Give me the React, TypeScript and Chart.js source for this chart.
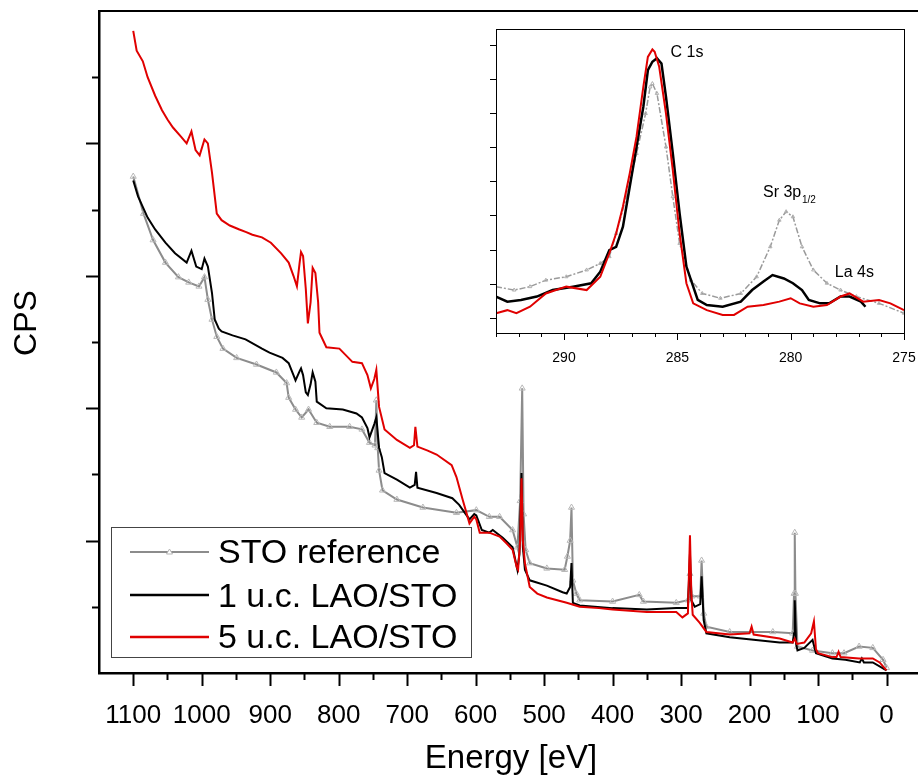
import React, { useEffect, useRef } from 'react';
import { Chart, registerables } from 'chart.js';
Chart.register(...registerables);

const FONT = "'Liberation Sans', Arial, Helvetica, sans-serif";

// ---------- main survey spectrum ----------
const redE = [1100, 1095, 1086, 1079, 1068, 1058, 1050, 1042, 1030, 1022, 1015, 1009, 1003, 996, 991, 985, 978, 971, 959, 945, 935, 926, 912, 899, 884, 873, 866, 861, 857, 855, 852, 848, 845, 841, 838, 834, 830, 828, 818, 799, 780, 766, 758, 753, 748, 745, 741, 733, 715, 696, 690, 688, 685, 670, 657, 635, 628, 619, 609, 602, 599, 594, 580, 565, 555, 546, 540, 538, 535, 533, 531, 528, 521, 510, 496, 467, 448, 420, 400, 350, 307, 298, 290, 287, 285, 283, 273, 263, 229, 200, 197, 194, 156, 137, 134, 131, 120, 110, 106, 103, 100, 79, 73, 70, 67, 40, 20, 10, 0];
const redY = [4.85, 4.70, 4.62, 4.50, 4.36, 4.25, 4.18, 4.12, 4.05, 4.00, 4.09, 3.95, 3.91, 4.03, 4.00, 3.78, 3.47, 3.42, 3.38, 3.35, 3.33, 3.31, 3.29, 3.25, 3.17, 3.10, 3.00, 2.92, 3.10, 3.18, 3.15, 2.90, 2.64, 2.80, 3.06, 3.02, 2.80, 2.57, 2.46, 2.45, 2.35, 2.34, 2.25, 2.15, 2.22, 2.29, 2.01, 1.84, 1.76, 1.70, 1.72, 1.86, 1.71, 1.68, 1.65, 1.57, 1.48, 1.31, 1.13, 1.18, 1.16, 1.06, 1.06, 1.03, 0.98, 0.93, 0.80, 0.78, 1.00, 1.47, 1.00, 0.83, 0.65, 0.60, 0.57, 0.53, 0.50, 0.49, 0.48, 0.46, 0.46, 0.42, 0.45, 1.04, 0.60, 0.44, 0.38, 0.31, 0.29, 0.30, 0.35, 0.29, 0.26, 0.23, 0.26, 0.22, 0.23, 0.30, 0.39, 0.18, 0.15, 0.12, 0.12, 0.16, 0.12, 0.11, 0.11, 0.08, 0.02];

const blackE = [1100, 1093, 1079, 1068, 1053, 1039, 1022, 1015, 1008, 1000, 996, 991, 985, 981, 975, 971, 955, 936, 912, 901, 882, 873, 866, 863, 857, 855, 852, 848, 845, 841, 838, 834, 832, 818, 794, 774, 766, 758, 755, 748, 745, 741, 737, 733, 715, 696, 689, 687, 685, 657, 634, 624, 609, 602, 599, 591, 580, 575, 560, 546, 539, 536, 533, 531, 528, 521, 496, 473, 467, 462, 460, 458, 448, 400, 350, 307, 290, 287, 285, 280, 272, 270, 267, 263, 229, 156, 137, 135, 134, 132, 130, 120, 108, 103, 79, 60, 39, 36, 33, 20, 0];
const blackY = [3.72, 3.60, 3.44, 3.35, 3.25, 3.17, 3.10, 3.19, 3.07, 3.05, 3.13, 3.07, 2.87, 2.67, 2.60, 2.58, 2.55, 2.52, 2.45, 2.42, 2.38, 2.34, 2.25, 2.21, 2.28, 2.30, 2.25, 2.12, 2.10, 2.18, 2.27, 2.20, 2.05, 2.00, 1.99, 1.96, 1.93, 1.85, 1.78, 1.88, 1.93, 1.70, 1.63, 1.51, 1.46, 1.40, 1.42, 1.52, 1.40, 1.36, 1.32, 1.27, 1.16, 1.20, 1.19, 1.08, 1.06, 1.08, 1.02, 0.95, 0.78, 0.90, 1.51, 0.95, 0.78, 0.70, 0.66, 0.61, 0.60, 0.65, 0.83, 0.53, 0.51, 0.49, 0.48, 0.49, 0.49, 0.90, 0.55, 0.50, 0.52, 0.73, 0.40, 0.30, 0.27, 0.23, 0.23, 0.30, 0.55, 0.22, 0.17, 0.19, 0.25, 0.15, 0.11, 0.10, 0.08, 0.11, 0.08, 0.08, 0.02];

const grayE = [1100, 1085, 1071, 1053, 1034, 1019, 1004, 996, 991, 985, 978, 969, 949, 920, 891, 876, 873, 863, 854, 844, 832, 813, 784, 766, 755, 747, 745, 743, 741, 736, 715, 677, 628, 599, 580, 565, 546, 539, 535, 532, 530, 527, 521, 496, 470, 466, 462, 460, 458, 453, 448, 400, 361, 355, 307, 290, 287, 284, 272, 270, 267, 263, 229, 166, 137, 135, 134, 133, 130, 108, 79, 62, 40, 20, 5, 0];
const grayY = [3.75, 3.47, 3.27, 3.10, 2.99, 2.95, 2.92, 2.99, 2.82, 2.67, 2.54, 2.45, 2.38, 2.33, 2.27, 2.19, 2.08, 1.99, 1.93, 1.99, 1.89, 1.86, 1.86, 1.84, 1.74, 1.72, 2.06, 1.70, 1.53, 1.38, 1.31, 1.25, 1.21, 1.23, 1.18, 1.18, 1.08, 0.95, 1.30, 2.15, 1.20, 0.93, 0.83, 0.79, 0.78, 0.88, 1.00, 1.25, 0.70, 0.60, 0.55, 0.54, 0.59, 0.54, 0.53, 0.55, 0.75, 0.58, 0.58, 0.85, 0.45, 0.35, 0.31, 0.31, 0.30, 0.60, 1.06, 0.60, 0.20, 0.17, 0.15, 0.15, 0.20, 0.19, 0.10, 0.04];

const xMajorTicks = [1100, 1000, 900, 800, 700, 600, 500, 400, 300, 200, 100, 0];
const xMinorTicks = [1050, 950, 850, 750, 650, 550, 450, 350, 250, 150, 50];
const yMajorTicks = [1, 2, 3, 4];
const yMinorTicks = [0.5, 1.5, 2.5, 3.5, 4.5];
const legendLabels = ['STO reference', '1 u.c. LAO/STO', '5 u.c. LAO/STO'];

// ---------- inset: C 1s region ----------
const insRedE = [293, 292.5, 292.1, 291.5, 290.8, 289.9, 289.0, 288.4, 288.0, 287.7, 287.4, 287.1, 286.8, 286.5, 286.3, 286.1, 286.0, 285.8, 285.5, 285.2, 284.9, 284.6, 284.3, 283.7, 283.0, 282.5, 281.9, 281.2, 280.5, 280.0, 279.6, 279.0, 278.4, 277.8, 277.4, 276.8, 276.1, 275.6, 275.0];
const insRedY = [0.13, 0.22, 0.13, 0.32, 0.71, 0.91, 0.81, 1.20, 1.89, 2.47, 3.26, 4.23, 5.31, 6.77, 7.65, 7.87, 7.80, 7.36, 5.99, 4.33, 2.47, 1.01, 0.42, 0.22, 0.08, 0.08, 0.32, 0.37, 0.47, 0.57, 0.42, 0.32, 0.37, 0.62, 0.71, 0.47, 0.52, 0.42, 0.22];
const insBlackE = [293, 292.5, 291.9, 291.2, 290.5, 289.6, 288.8, 288.4, 288.0, 287.7, 287.4, 287.1, 286.8, 286.5, 286.3, 286.1, 285.9, 285.7, 285.5, 285.2, 284.9, 284.6, 284.1, 283.7, 283.0, 282.2, 281.7, 281.2, 280.8, 280.3, 279.9, 279.5, 279.2, 278.7, 278.3, 277.8, 277.4, 276.9, 276.7];
const insBlackY = [0.62, 0.47, 0.52, 0.62, 0.81, 0.91, 1.01, 1.35, 1.98, 2.08, 2.67, 3.84, 5.01, 6.19, 7.26, 7.51, 7.61, 7.46, 6.48, 4.82, 3.06, 1.50, 0.52, 0.37, 0.32, 0.47, 0.81, 1.06, 1.25, 1.15, 1.01, 0.81, 0.52, 0.42, 0.42, 0.62, 0.62, 0.47, 0.32];
const insGrayE = [293, 292.2, 291.5, 290.8, 289.9, 289.0, 288.4, 288.0, 287.7, 287.2, 286.8, 286.4, 286.2, 286.1, 285.9, 285.5, 285.2, 284.9, 284.4, 283.9, 283.1, 282.2, 281.5, 280.9, 280.5, 280.2, 279.9, 279.5, 279.0, 278.4, 277.8, 277.1, 276.1, 275.0];
const insGrayY = [0.91, 0.81, 0.91, 1.10, 1.20, 1.40, 1.59, 1.79, 2.47, 3.65, 4.82, 5.99, 6.77, 6.87, 6.58, 5.01, 3.55, 2.18, 1.10, 0.71, 0.57, 0.71, 1.20, 2.08, 2.86, 3.11, 2.96, 2.08, 1.40, 1.01, 0.81, 0.62, 0.42, 0.13];
const insXMajorTicks = [290, 285, 280, 275];
const insXMinorTicks = [293, 292, 291, 289, 288, 287, 286, 284, 283, 282, 281, 279, 278, 277, 276];
const insYTicks = [0, 1, 2, 3, 4, 5, 6, 7, 8];

const pts = (xs: number[], ys: number[]) => xs.map((x, i) => ({ x, y: ys[i] }));

const mainPlugin = {
  id: 'mainDeco',
  afterDraw(chart: any) {
    const { ctx, chartArea: ca, scales } = chart;
    const xs = scales.x, ys = scales.y;
    ctx.save();
    ctx.strokeStyle = '#000';
    ctx.lineWidth = 2;
    ctx.beginPath();
    ctx.moveTo(ca.left, ca.top);
    ctx.lineTo(ca.right, ca.top);
    ctx.stroke();
    const drawX = (vals: number[], len: number) => {
      vals.forEach((v) => {
        const p = Math.round(xs.getPixelForValue(v)) + 0.5;
        ctx.beginPath();
        ctx.moveTo(p, ca.bottom);
        ctx.lineTo(p, ca.bottom + len);
        ctx.stroke();
      });
    };
    drawX(xMajorTicks, 13);
    drawX(xMinorTicks, 7);
    const drawY = (vals: number[], len: number) => {
      vals.forEach((v) => {
        const p = Math.round(ys.getPixelForValue(v)) + 0.5;
        ctx.beginPath();
        ctx.moveTo(ca.left, p);
        ctx.lineTo(ca.left - len, p);
        ctx.stroke();
      });
    };
    drawY(yMajorTicks, 13);
    drawY(yMinorTicks, 7);
    ctx.fillStyle = '#000';
    ctx.font = `32px ${FONT}`;
    ctx.textAlign = 'center';
    ctx.textBaseline = 'middle';
    ctx.save();
    ctx.translate(27, 323);
    ctx.rotate(-Math.PI / 2);
    ctx.fillText('CPS', 0, 0);
    ctx.restore();
    ctx.font = `33px ${FONT}`;
    ctx.textBaseline = 'alphabetic';
    ctx.fillText('Energy [eV]', 511, 768);
    const bx = 111.5, by = 527.5, bw = 360, bh = 130;
    ctx.fillStyle = '#fff';
    ctx.fillRect(bx, by, bw, bh);
    ctx.strokeStyle = '#444';
    ctx.lineWidth = 1;
    ctx.strokeRect(bx, by, bw, bh);
    const rows = [
      { y: 552, color: '#8c8c8c', width: 2, base: 563 },
      { y: 595, color: '#000', width: 2.5, base: 606.5 },
      { y: 637, color: '#e00000', width: 2.5, base: 648 },
    ];
    rows.forEach((r, i) => {
      ctx.strokeStyle = r.color;
      ctx.lineWidth = r.width;
      ctx.beginPath();
      ctx.moveTo(130, r.y);
      ctx.lineTo(209, r.y);
      ctx.stroke();
      if (i === 0) {
        ctx.strokeStyle = '#b5b5b5';
        ctx.lineWidth = 1;
        ctx.fillStyle = '#fff';
        ctx.beginPath();
        ctx.moveTo(169.5, r.y - 3);
        ctx.lineTo(166.5, r.y + 2);
        ctx.lineTo(172.5, r.y + 2);
        ctx.closePath();
        ctx.fill();
        ctx.stroke();
      }
      ctx.fillStyle = '#000';
      ctx.font = `34px ${FONT}`;
      ctx.textAlign = 'left';
      ctx.textBaseline = 'alphabetic';
      ctx.fillText(legendLabels[i], 218, r.base);
    });
    ctx.restore();
  },
};

const insetPlugin = {
  id: 'insetDeco',
  beforeDatasetsDraw(chart: any) {
    const { ctx, chartArea: ca } = chart;
    ctx.save();
    ctx.fillStyle = '#fff';
    ctx.fillRect(ca.left, ca.top, ca.right - ca.left, ca.bottom - ca.top);
    ctx.restore();
  },
  afterDraw(chart: any) {
    const { ctx, chartArea: ca, scales } = chart;
    const xs = scales.x, ys = scales.y;
    ctx.save();
    ctx.strokeStyle = '#000';
    ctx.lineWidth = 1;
    ctx.strokeRect(Math.round(ca.left) + 0.5, Math.round(ca.top) + 0.5, Math.round(ca.right - ca.left), Math.round(ca.bottom - ca.top));
    const drawX = (vals: number[], len: number) => {
      vals.forEach((v) => {
        const p = Math.round(xs.getPixelForValue(v)) + 0.5;
        ctx.beginPath();
        ctx.moveTo(p, ca.bottom);
        ctx.lineTo(p, ca.bottom + len);
        ctx.stroke();
      });
    };
    drawX(insXMajorTicks, 7);
    drawX(insXMinorTicks, 4);
    insYTicks.forEach((v) => {
      const p = Math.round(ys.getPixelForValue(v)) + 0.5;
      ctx.beginPath();
      ctx.moveTo(ca.left, p);
      ctx.lineTo(ca.left - 6, p);
      ctx.stroke();
    });
    ctx.fillStyle = '#000';
    ctx.textAlign = 'left';
    ctx.textBaseline = 'alphabetic';
    ctx.font = `16px ${FONT}`;
    ctx.fillText('C 1s', xs.getPixelForValue(285.3), ys.getPixelForValue(7.65));
    ctx.fillText('Sr 3p', xs.getPixelForValue(281.22), ys.getPixelForValue(3.55));
    ctx.fillText('La 4s', xs.getPixelForValue(278.05), ys.getPixelForValue(1.18));
    ctx.font = `10px ${FONT}`;
    ctx.fillText('1/2', xs.getPixelForValue(279.5), ys.getPixelForValue(3.37));
    ctx.restore();
  },
};

export default function App() {
  const mainRef = useRef<HTMLCanvasElement>(null);
  const insetRef = useRef<HTMLCanvasElement>(null);

  useEffect(() => {
    Chart.defaults.font.family = FONT;
    Chart.defaults.color = '#000';
    const main = new Chart(mainRef.current as HTMLCanvasElement, {
      type: 'line',
      data: {
        datasets: [
          { label: legendLabels[2], data: pts(redE, redY), borderColor: '#e00000', borderWidth: 2, pointRadius: 0, order: 0 },
          { label: legendLabels[1], data: pts(blackE, blackY), borderColor: '#000', borderWidth: 2, pointRadius: 0, order: 1 },
          {
            label: legendLabels[0],
            data: pts(grayE, grayY),
            borderColor: '#8c8c8c',
            borderWidth: 2,
            pointStyle: 'triangle',
            pointRadius: 3.5,
            pointBorderColor: '#b8b8b8',
            pointBackgroundColor: 'rgba(255,255,255,0)',
            pointBorderWidth: 1,
            order: 2,
          },
        ],
      } as any,
      options: {
        animation: false,
        responsive: false,
        maintainAspectRatio: false,
        layout: { autoPadding: false, padding: { top: 11, right: 0, left: 0, bottom: 0 } },
        plugins: { legend: { display: false }, tooltip: { enabled: false } },
        elements: { line: { tension: 0 } },
        scales: {
          x: {
            type: 'linear',
            reverse: true,
            min: -46,
            max: 1150,
            afterBuildTicks: (s: any) => {
              s.ticks = xMajorTicks.map((v) => ({ value: v }));
            },
            afterFit: (s: any) => {
              s.height = 105;
              s.paddingLeft = 0;
              s.paddingRight = 0;
            },
            grid: { display: false },
            border: { display: true, color: '#000', width: 2.5 },
            ticks: {
              font: { size: 26, family: FONT },
              color: '#000',
              padding: 19,
              maxRotation: 0,
              autoSkip: false,
              callback: (v: any) => String(v),
            },
          },
          y: {
            type: 'linear',
            min: 0,
            max: 5,
            afterFit: (s: any) => {
              s.width = 99;
              s.paddingTop = 0;
              s.paddingBottom = 0;
            },
            grid: { display: false },
            border: { display: true, color: '#000', width: 2.5 },
            ticks: { display: false },
          },
        },
      } as any,
      plugins: [mainPlugin],
    });

    const inset = new Chart(insetRef.current as HTMLCanvasElement, {
      type: 'line',
      data: {
        datasets: [
          { data: pts(insRedE, insRedY), borderColor: '#e00000', borderWidth: 2, pointRadius: 0, order: 0 },
          { data: pts(insBlackE, insBlackY), borderColor: '#000', borderWidth: 2.5, pointRadius: 0, order: 1 },
          {
            data: pts(insGrayE, insGrayY),
            borderColor: '#9a9a9a',
            borderWidth: 1.5,
            borderDash: [6, 2, 2, 2],
            pointStyle: 'triangle',
            pointRadius: 2,
            pointBorderColor: '#b0b0b0',
            pointBackgroundColor: 'rgba(255,255,255,0)',
            pointBorderWidth: 1,
            order: 2,
          },
        ],
      } as any,
      options: {
        animation: false,
        responsive: false,
        maintainAspectRatio: false,
        layout: { autoPadding: false, padding: { top: 9, right: 14, left: 0, bottom: 0 } },
        plugins: { legend: { display: false }, tooltip: { enabled: false } },
        elements: { line: { tension: 0 } },
        scales: {
          x: {
            type: 'linear',
            reverse: true,
            min: 275,
            max: 293,
            afterBuildTicks: (s: any) => {
              s.ticks = insXMajorTicks.map((v) => ({ value: v }));
            },
            afterFit: (s: any) => {
              s.height = 37;
              s.paddingLeft = 0;
              s.paddingRight = 0;
            },
            grid: { display: false },
            border: { display: false },
            ticks: {
              font: { size: 14, family: FONT },
              color: '#000',
              padding: 9,
              maxRotation: 0,
              autoSkip: false,
              callback: (v: any) => String(v),
            },
          },
          y: {
            type: 'linear',
            min: -0.45,
            max: 8.47,
            afterFit: (s: any) => {
              s.width = 16;
              s.paddingTop = 0;
              s.paddingBottom = 0;
            },
            grid: { display: false },
            border: { display: false },
            ticks: { display: false },
          },
        },
      } as any,
      plugins: [insetPlugin],
    });

    return () => {
      main.destroy();
      inset.destroy();
    };
  }, []);

  return (
    <div style={{ position: 'fixed', left: 0, top: 0, width: 918, height: 778, background: '#fff', overflow: 'hidden' }}>
      <canvas ref={mainRef} width={918} height={778} style={{ position: 'absolute', left: 0, top: 0, width: 918, height: 778 }} />
      <canvas ref={insetRef} width={438} height={350} style={{ position: 'absolute', left: 480, top: 20, width: 438, height: 350 }} />
    </div>
  );
}
